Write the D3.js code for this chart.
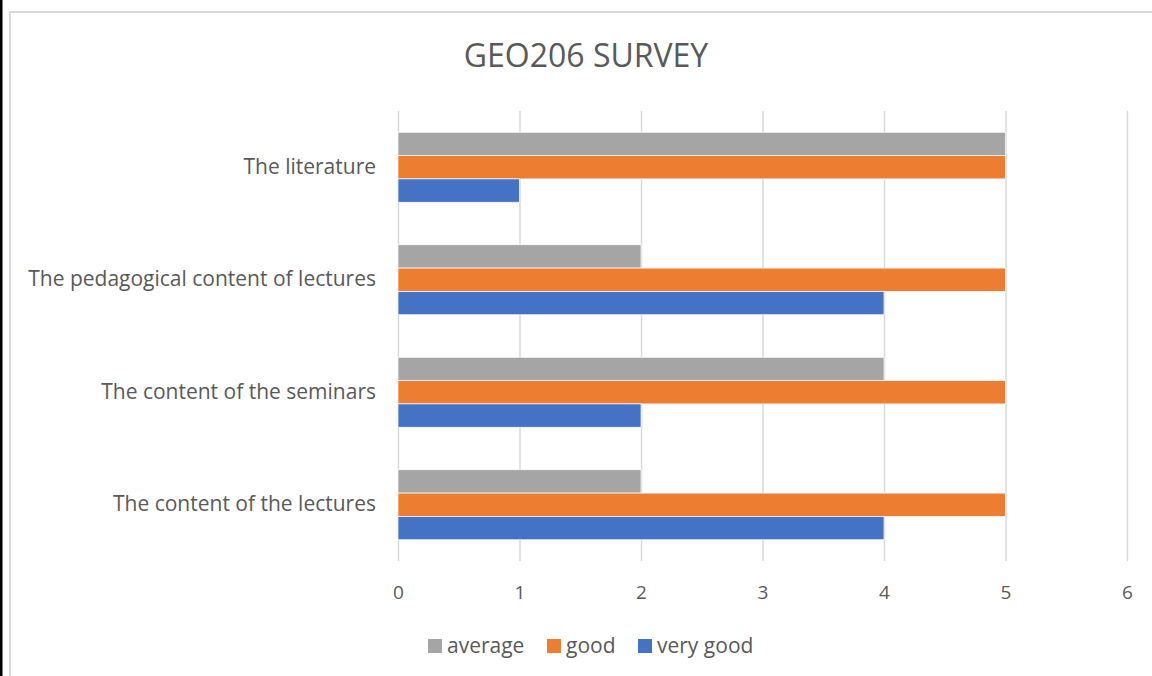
<!DOCTYPE html>
<html><head><meta charset="utf-8">
<script src="https://cdn.jsdelivr.net/npm/d3@7"></script>
<style>html,body{margin:0;padding:0;background:#fff;}svg{display:block;}</style>
</head><body>
<script>
const categories = ["The literature", "The pedagogical content of lectures", "The content of the seminars", "The content of the lectures"];
const seriesNames = ["average", "good", "very good"];
const average = [5, 2, 4, 2];
const good = [5, 5, 5, 5];
const veryGood = [1, 4, 2, 4];
const xTicks = [0, 1, 2, 3, 4, 5, 6];
const colors = ["#A5A5A5", "#ED7D31", "#4472C4"];
const title = "GEO206 SURVEY";

(function () {
const W = 1152, H = 676;
const font = "'Open Sans', sans-serif";
const textColor = "#595959";
const svg = d3.select("body").append("svg").attr("width", W).attr("height", H);

// frame
svg.append("rect").attr("x", 0).attr("y", 0).attr("width", 2.5).attr("height", H).attr("fill", "#000");
svg.append("line").attr("x1", 10).attr("x2", 10).attr("y1", 11).attr("y2", H).attr("stroke", "#d9d9d9").attr("stroke-width", 2);
svg.append("line").attr("x1", 9).attr("x2", W).attr("y1", 12).attr("y2", 12).attr("stroke", "#d9d9d9").attr("stroke-width", 2);

const mL = 398, mR = 1127, mT = 111, mB = 561;
const x = d3.scaleLinear().domain([0, 6]).range([mL, mR]);
const y = d3.scaleBand().domain(categories).range([mT, mB]).paddingInner(0.378).paddingOuter(0.189);
const ySub = d3.scaleBand().domain(seriesNames).range([0, y.bandwidth()]);

// gridlines
const xAxis = d3.axisBottom(x).tickValues(xTicks).tickSize(-(mB - mT)).tickPadding(25).tickFormat(d3.format("d"));
const gx = svg.append("g").attr("transform", `translate(0,${mB})`).call(xAxis);
gx.select(".domain").remove();
gx.selectAll(".tick line").attr("stroke", "#d9d9d9").attr("stroke-width", 1.5);
gx.selectAll(".tick text").attr("fill", textColor).attr("font-family", font).attr("font-size", 19);

const values = [average, good, veryGood];
const rows = [];
categories.forEach((c, i) => seriesNames.forEach((s, j) => rows.push({c, s, v: values[j][i], color: colors[j]})));
svg.append("g").selectAll("rect").data(rows).join("rect")
  .attr("x", x(0)).attr("y", d => y(d.c) + ySub(d.s))
  .attr("width", d => x(d.v) - x(0)).attr("height", ySub.bandwidth())
  .attr("fill", d => d.color).attr("stroke", "#fff").attr("stroke-width", 0.7);

// category axis
const yAxis = d3.axisLeft(y).tickSize(0).tickPadding(22);
const gy = svg.append("g").attr("transform", `translate(${mL},0)`).call(yAxis);
gy.select(".domain").remove();
gy.selectAll(".tick text").attr("fill", textColor).attr("font-family", font).attr("font-size", 21);

// title
svg.append("text").attr("x", 586).attr("y", 67).attr("text-anchor", "middle")
  .attr("fill", textColor).attr("font-family", font).attr("font-size", 32).text(title);

// legend
const legendX = [428, 547, 638];
const lg = svg.append("g");
seriesNames.forEach((s, j) => {
  lg.append("rect").attr("x", legendX[j]).attr("y", 639).attr("width", 14).attr("height", 14).attr("fill", colors[j]);
  lg.append("text").attr("x", legendX[j] + 19).attr("y", 653).attr("fill", textColor)
    .attr("font-family", font).attr("font-size", 21).text(s);
});
})();
</script>
</body></html>
